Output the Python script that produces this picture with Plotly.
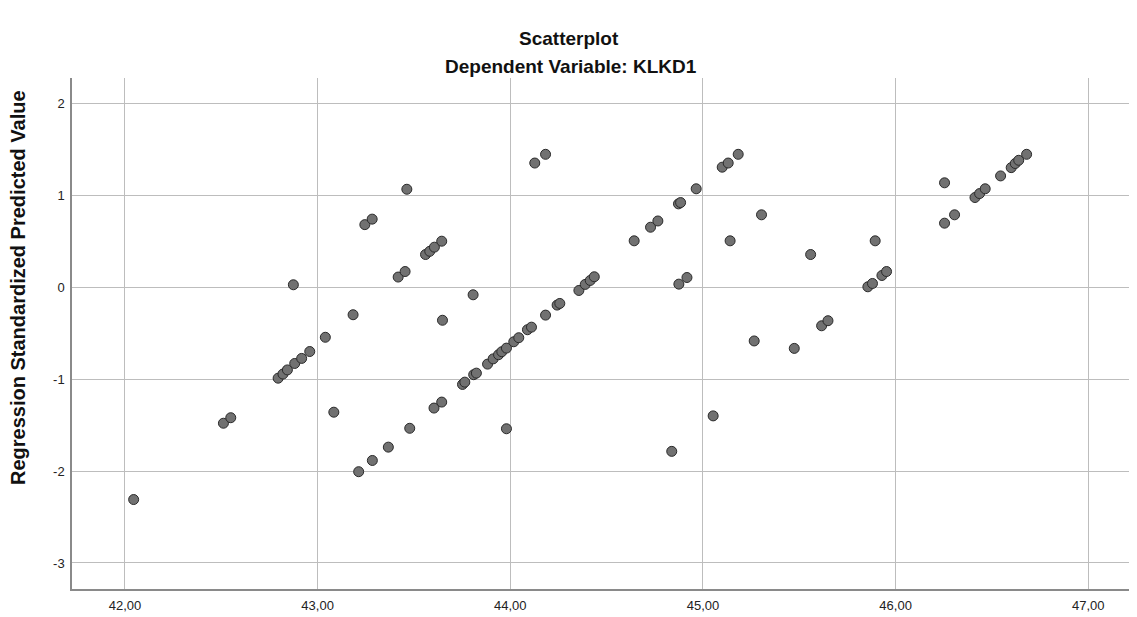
import plotly.graph_objects as go

# Unstandardized predicted value (x) vs Regression Standardized Predicted Value (y)
x_vals = [42.045, 42.511, 42.549, 42.795, 42.820, 42.843, 42.874, 42.881, 42.917, 42.959,
          43.040, 43.084, 43.184, 43.213, 43.245, 43.283, 43.284, 43.367, 43.418, 43.454,
          43.463, 43.478, 43.560, 43.582, 43.604, 43.606, 43.644, 43.644, 43.648, 43.752,
          43.764, 43.810, 43.807, 43.824, 43.882, 43.911, 43.939, 43.956, 43.980, 43.980,
          44.018, 44.044, 44.089, 44.110, 44.127, 44.183, 44.183, 44.243, 44.257, 44.356,
          44.389, 44.415, 44.436, 44.643, 44.728, 44.766, 44.838, 44.873, 44.875, 44.884,
          44.917, 44.965, 45.053, 45.100, 45.131, 45.141, 45.183, 45.266, 45.304, 45.474,
          45.559, 45.616, 45.649, 45.856, 45.880, 45.894, 45.929, 45.953, 46.254, 46.254,
          46.306, 46.412, 46.436, 46.465, 46.545, 46.600, 46.621, 46.639, 46.680]
y_vals = [-2.31, -1.48, -1.42, -0.99, -0.945, -0.90, 0.026, -0.83, -0.775, -0.70,
          -0.545, -1.36, -0.30, -2.007, 0.68, 0.74, -1.885, -1.74, 0.11, 0.17,
          1.065, -1.535, 0.355, 0.39, -1.315, 0.435, 0.50, -1.25, -0.36, -1.058,
          -1.033, -0.952, -0.083, -0.935, -0.837, -0.78, -0.735, -0.702, -0.663, -1.54,
          -0.594, -0.55, -0.463, -0.435, 1.35, 1.445, -0.304, -0.195, -0.177, -0.036,
          0.03, 0.073, 0.113, 0.504, 0.652, 0.72, -1.786, 0.906, 0.033, 0.92,
          0.105, 1.07, -1.40, 1.305, 1.35, 0.504, 1.445, -0.585, 0.787, -0.666,
          0.355, -0.42, -0.365, 0.004, 0.04, 0.504, 0.127, 0.17, 1.135, 0.696,
          0.787, 0.975, 1.018, 1.07, 1.21, 1.30, 1.345, 1.38, 1.445]

x_ticks = [42, 43, 44, 45, 46, 47]
x_tick_text = ["42,00", "43,00", "44,00", "45,00", "46,00", "47,00"]
y_ticks = [2, 1, 0, -1, -2, -3]
y_tick_text = ["2", "1", "0", "-1", "-2", "-3"]

title_main = "Scatterplot"
title_sub = "Dependent Variable: KLKD1"
y_title = "Regression Standardized Predicted Value"

FONT = "Liberation Sans, Arial, sans-serif"

fig = go.Figure()
fig.add_trace(go.Scatter(
    x=x_vals, y=y_vals, mode="markers",
    marker=dict(size=10, color="#717171", line=dict(color="#2a2a2a", width=1)),
    hoverinfo="x+y", showlegend=False,
))

# page has an 8px body margin; figure placed accordingly
OFF = 8
W, H = 1137 - OFF, 617 - OFF
L, R, T, B = 72 - OFF, 0, 78 - OFF, 617 - 589
pw = W - L - R
ph = H - T - B

fig.update_layout(
    width=W, height=H,
    margin=dict(l=L, r=R, t=T, b=B),
    paper_bgcolor="white", plot_bgcolor="white",
    font=dict(family=FONT, color="#222222", size=13),
    xaxis=dict(range=[41.725, 47.253], tickvals=x_ticks, ticktext=x_tick_text,
               showgrid=True, gridcolor="#bdbdbd", gridwidth=1, zeroline=False,
               showline=True, linecolor="#8a8a8a", linewidth=1.5, ticks="",
               ticklabelstandoff=4,
               tickfont=dict(size=13, color="#222222")),
    yaxis=dict(range=[-3.283, 2.275], tickvals=y_ticks, ticktext=y_tick_text,
               showgrid=True, gridcolor="#bdbdbd", gridwidth=1, zeroline=False,
               showline=True, linecolor="#8a8a8a", linewidth=1.5, ticks="",
               ticklabelstandoff=3,
               tickfont=dict(size=13, color="#222222")),
)


def fx(px):
    return (px - OFF - L) / pw


def fy(py):
    return (H - B - (py - OFF)) / ph


fig.add_annotation(text=f"<b>{title_main}</b>", xref="paper", yref="paper",
                   x=fx(569), y=fy(38), showarrow=False,
                   font=dict(size=19, family=FONT, color="#111111"),
                   xanchor="center", yanchor="middle")
fig.add_annotation(text=f"<b>{title_sub}</b>", xref="paper", yref="paper",
                   x=fx(571), y=fy(66), showarrow=False,
                   font=dict(size=19, family=FONT, color="#111111"),
                   xanchor="center", yanchor="middle")
fig.add_annotation(text=f"<b>{y_title}</b>", xref="paper", yref="paper",
                   x=fx(18), y=fy(288), showarrow=False,
                   textangle=-90, font=dict(size=20, family=FONT, color="#111111"),
                   xanchor="center", yanchor="middle")

fig.write_html("out.html")
